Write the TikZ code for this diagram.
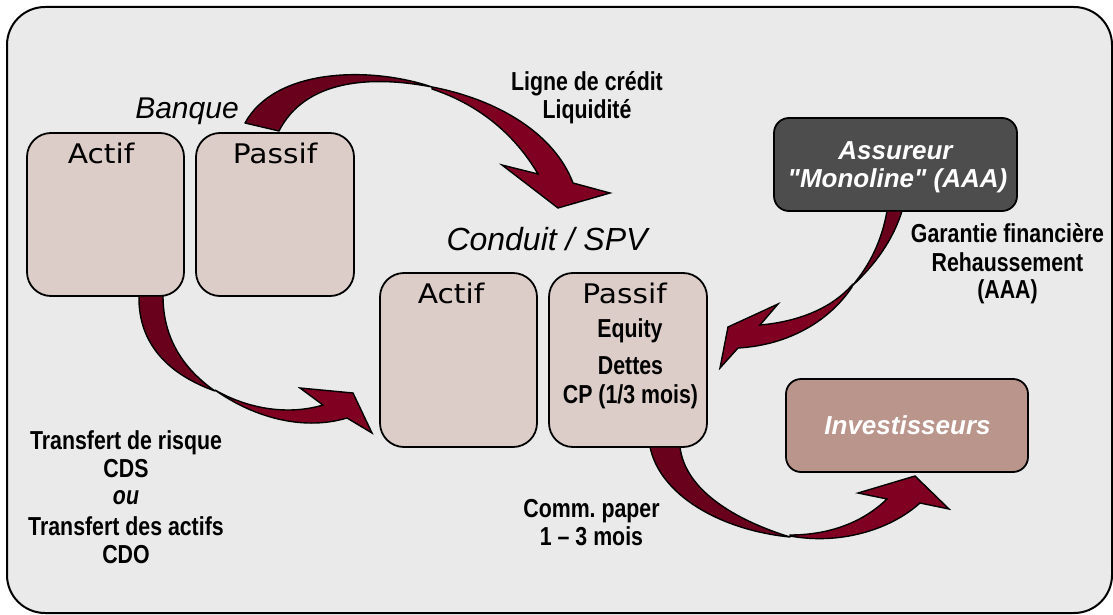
\documentclass[tikz,border=0pt]{standalone}
\usepackage{fontspec}
\setmainfont{Liberation Sans}
\newfontfamily\narrowfont[FakeStretch=0.82]{Liberation Sans}
\newfontfamily\wideboxfont[FakeStretch=1.1]{DejaVu Sans}
% straight quotation marks: no TeX character mapping
\newfontfamily\entityfont[Ligatures=ResetAll]{Liberation Sans}
\frenchspacing

\definecolor{sheetbg}{HTML}{EAEAEA}
\definecolor{sheetfill}{HTML}{DDCDC9}
\definecolor{insurerfill}{HTML}{4D4D4D}
\definecolor{investorfill}{HTML}{B9958C}
\definecolor{ribbonred}{HTML}{7F0021}
\definecolor{ribbondark}{HTML}{69001C}

\begin{document}
\begin{tikzpicture}[x=1pt,y=-1pt,
  frame/.style={draw=black, line width=2pt, fill=sheetbg, rounded corners=38pt},
  panel/.style={draw=black, line width=1.8pt, fill=sheetfill, rounded corners=24pt,
    inner sep=0pt, minimum height=#1},
  panel/.default=163pt,
  entity/.style={draw=black, line width=1.8pt, rounded corners=15pt, inner sep=0pt,
    minimum width=243pt, minimum height=93pt},
  boxlabel/.style={font=\wideboxfont\fontsize{27}{30}\selectfont, anchor=base, inner sep=0pt},
  note/.style={font=\narrowfont\bfseries\fontsize{26}{30}\selectfont, anchor=base, inner sep=0pt},
  notei/.style={font=\narrowfont\bfseries\itshape\fontsize{26}{30}\selectfont, anchor=base, inner sep=0pt},
  heading/.style={font=\itshape\fontsize{#1}{34}\selectfont, anchor=base, inner sep=0pt},
  entitytext/.style={font=\entityfont\bfseries\itshape\fontsize{26}{30}\selectfont, text=white, anchor=base, inner sep=0pt},
  ribback/.style={fill=ribbondark, draw=black, line width=1.4pt, line join=round},
  ribfront/.style={fill=ribbonred, draw=black, line width=1.4pt, line join=miter},
]
\useasboundingbox (0,0) rectangle (1113,615);

% sheet
\path[frame] (7,7) rectangle (1112,613);

% bank balance sheet
\node[panel, minimum width=157pt] (bactif) at (105.5,214.5) {};
\node[panel, minimum width=158pt] (bpassif) at (275,214.5) {};
\node[boxlabel] (bactiflbl) at (101,163) {Actif};
\node[boxlabel] (bpassiflbl) at (275,163) {Passif};
\node[heading=30] (banque) at (187,118) {Banque};

% conduit balance sheet
\node[panel=174pt, minimum width=157pt] (sactif) at (458.5,360) {};
\node[panel=174pt, minimum width=158pt] (spassif) at (628,360) {};
\node[boxlabel] (sactiflbl) at (451,303) {Actif};
\node[boxlabel] (spassiflbl) at (624.5,303) {Passif};
\node[note] (equity) at (630,337) {Equity};
\node[note] (dettes) at (630.5,374) {Dettes};
\node[note] (cp) at (630.5,403) {CP (1/3 mois)};
\node[heading=32] (conduit) at (547,250) {Conduit / SPV};

% insurer and investors
\node[entity, fill=insurerfill] (assureur) at (895.5,164.5) {};
\node[entitytext] (assureur1) at (895.5,159) {Assureur};
\node[entitytext] (assureur2) at (897.5,187) {"Monoline" (AAA)};
\node[entity, fill=investorfill, minimum width=242pt] (invest) at (907,425.5) {};
\node[entitytext] (investlbl) at (907.5,434) {Investisseurs};

% flow labels
\node[note] (ligne1) at (587,91) {Ligne de crédit};
\node[note] (ligne2) at (587,119) {Liquidité};
\node[note] (gar1) at (1007.5,242) {Garantie financière};
\node[note] (gar2) at (1007.5,271) {Rehaussement};
\node[note] (gar3) at (1007.5,298) {(AAA)};
\node[note] (tr1) at (126,449) {Transfert de risque};
\node[note] (tr2) at (126,477) {CDS};
\node[notei] (tr3) at (126,504) {ou};
\node[note] (tr4) at (126,535) {Transfert des actifs};
\node[note] (tr5) at (126,563) {CDO};
\node[note] (comm1) at (591.5,517) {Comm. paper};
\node[note] (comm2) at (591.5,545) {1 – 3 mois};

% bank passif -> conduit (credit line)
\path[ribback] (245,123) .. controls (275,68) and (370,66) .. (432,87)
  .. controls (370,75) and (305,80) .. (279,131) -- cycle;
\path[ribfront] (432,87) .. controls (500,100) and (555,135) .. (573,183)
  -- (610,193) -- (558,208) -- (502,165) -- (538,174)
  .. controls (515,135) and (480,105) .. (432,89) -- cycle;

% bank actif -> conduit actif (transfer)
\path[ribback] (139,296) .. controls (138,345) and (170,375) .. (215,391)
  .. controls (185,370) and (163,340) .. (163,296) -- cycle;
\path[ribfront] (215,390) .. controls (250,415) and (300,432) .. (347,418)
  -- (372,433) -- (353,393) -- (300,388) -- (323,405)
  .. controls (290,415) and (250,410) .. (215,390) -- cycle;

% insurer -> conduit passif (guarantee)
\path[ribback] (887,211) .. controls (882,240) and (870,265) .. (852,286)
  .. controls (875,265) and (893,240) .. (902,211) -- cycle;
\path[ribfront] (852,285) .. controls (830,310) and (795,322) .. (760,325)
  -- (778,304) -- (728,327) -- (720,368) -- (738,348)
  .. controls (790,345) and (830,320) .. (852,287) -- cycle;

% conduit passif -> investors (commercial paper)
\path[ribback] (650,447) .. controls (660,495) and (720,530) .. (790,537)
  .. controls (735,520) and (685,490) .. (680,447) -- cycle;
\path[ribfront] (790,536) .. controls (840,545) and (890,530) .. (920,503)
  -- (949,509) -- (915,476) -- (858,493) -- (887,499)
  .. controls (860,525) and (825,535) .. (790,535) -- cycle;
\end{tikzpicture}
\end{document}
